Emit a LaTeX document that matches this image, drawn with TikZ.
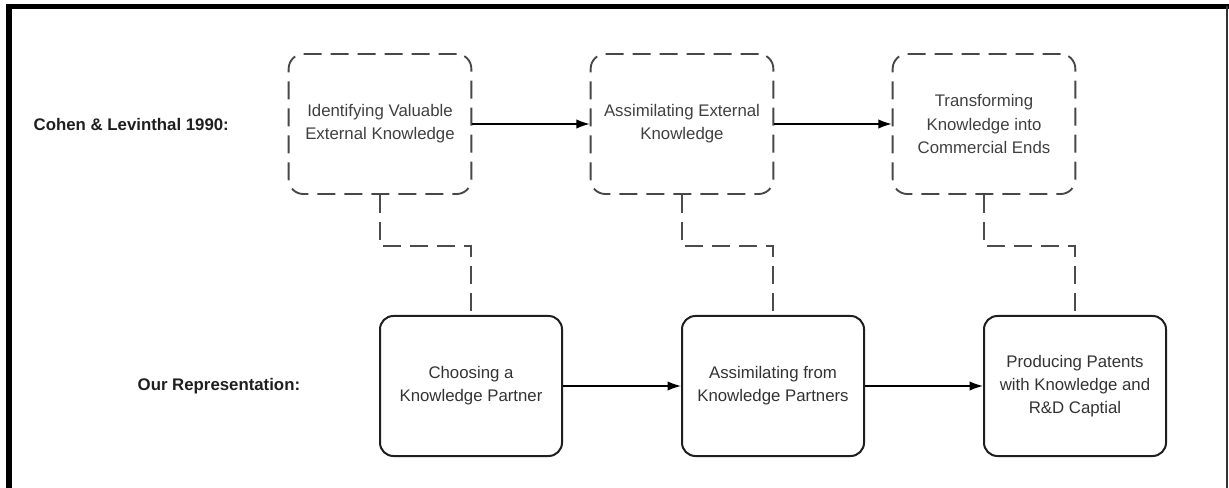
\documentclass[tikz,border=0pt]{standalone}
\usepackage{fontspec}
\setmainfont{Liberation Sans}
\usetikzlibrary{arrows.meta,positioning}

\begin{document}
\begin{tikzpicture}[x=0.75pt, y=0.75pt, ->, >={Latex[length=10pt,width=7pt]},
                node distance=226.5pt,
                idea node/.style={draw=black!72, line width=1.4pt,
                   dash pattern=on 13.5pt off 6.75pt, rounded corners=11pt,
                   minimum width=137pt, minimum height=105pt, align=center,
                   text=black!75, font=\fontsize{12.6}{17.3}\selectfont},
                step node/.style={draw=black!88, line width=1.5pt, rounded corners=10pt,
                   minimum width=136.5pt, minimum height=105pt, align=center,
                   text=black!80, font=\fontsize{12.6}{17.3}\selectfont},
                link/.style={-, draw=black!70, line width=1.2pt,
                   dash pattern=on 13.5pt off 6.75pt},
                row label/.style={anchor=west, text=black!88,
                   font=\bfseries\fontsize{12.6}{15}\selectfont}]

      \useasboundingbox (0,0) rectangle (1229,-488);
      % frame
      \draw[-, line width=4.5pt] (9,-488) -- (9,-4.5);
      \draw[-, line width=3.8pt] (6.8,-6.5) -- (1229,-6.5);
      \draw[-, line width=1.5pt, black!80] (1226.5,-6.5) -- (1226.5,-488);

      \node[row label] (L1) at (29,-124) {Cohen \& Levinthal 1990:};
      \node[row label] (L2) at (133,-386) {Our Representation:};

      \node[idea node] (C1) at (380,-124) {Identifying Valuable\\External Knowledge};
      \node[idea node] (C2) [right of=C1] {Assimilating External\\Knowledge};
      \node[idea node] (C3) [right of=C2] {Transforming\\Knowledge into\\Commercial Ends};

      \node[step node] (B1) at (471,-386) {Choosing a\\Knowledge Partner};
      \node[step node] (B2) [right of=B1] {Assimilating from\\Knowledge Partners};
      \node[step node] (B3) [right of=B2] {Producing Patents\\with Knowledge and\\R\&D Captial};

      \draw[line width=1.1pt] (C1) -- (C2);
      \draw[line width=1.1pt] (C2) -- (C3);
      \draw[line width=1.1pt] (B1) -- (B2);
      \draw[line width=1.1pt] (B2) -- (B3);

      \draw[link] (C1.south) -- ++(0,-51) -| (B1.north);
      \draw[link] (C2.south) -- ++(0,-51) -| (B2.north);
      \draw[link] (C3.south) -- ++(0,-51) -| (B3.north);
  \end{tikzpicture}
\end{document}
